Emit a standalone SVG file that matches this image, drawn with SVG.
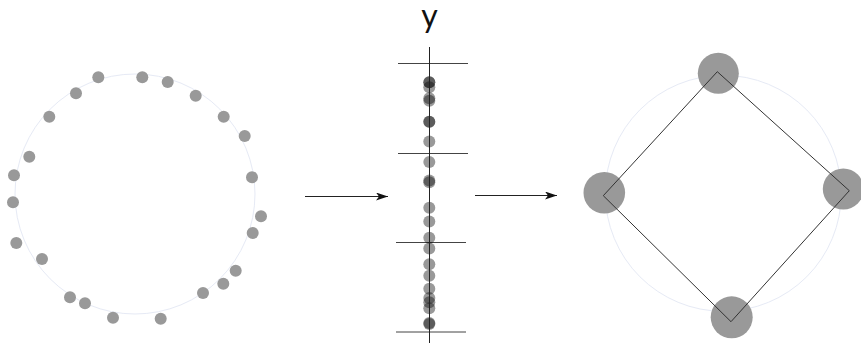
<svg xmlns="http://www.w3.org/2000/svg" width="861" height="345" viewBox="0 0 861 345">
<style>
.guide{fill:none;stroke:#e6eaf5;stroke-width:1}
.pt{fill:#999}
.proj{fill:#000;fill-opacity:0.4}
.axis{stroke:#222;stroke-width:1}
.tick{stroke:#444;stroke-width:1}
.big{fill:#999}
.edge{fill:none;stroke:#333;stroke-width:1}
.conn{stroke:#222;stroke-width:1;fill:none}
.lbl{font-family:Lato,"Open Sans","DejaVu Sans",sans-serif;font-size:32px;fill:#111}
</style>
<defs>
<marker id="ah" viewBox="0 0 12 8" refX="12" refY="4" markerWidth="12" markerHeight="8" markerUnits="userSpaceOnUse" orient="auto">
<path d="M0,0 L12,4 L0,8 L3,4 Z" fill="#111"/>
</marker>
</defs>
<g id="ring">
<circle class="guide" cx="135" cy="194" r="120"/>
<circle class="pt" cx="98.3" cy="77.3" r="6"/>
<circle class="pt" cx="142.3" cy="77.3" r="6"/>
<circle class="pt" cx="167.7" cy="82" r="6"/>
<circle class="pt" cx="195.7" cy="95.7" r="6"/>
<circle class="pt" cx="223.7" cy="116.7" r="6"/>
<circle class="pt" cx="244.7" cy="136" r="6"/>
<circle class="pt" cx="252" cy="177.3" r="6"/>
<circle class="pt" cx="261" cy="216.3" r="6"/>
<circle class="pt" cx="252.7" cy="233" r="6"/>
<circle class="pt" cx="235.7" cy="270.7" r="6"/>
<circle class="pt" cx="223.3" cy="283.7" r="6"/>
<circle class="pt" cx="203" cy="293" r="6"/>
<circle class="pt" cx="160.7" cy="318.7" r="6"/>
<circle class="pt" cx="113" cy="317.7" r="6"/>
<circle class="pt" cx="85" cy="303.3" r="6"/>
<circle class="pt" cx="70" cy="297.3" r="6"/>
<circle class="pt" cx="42" cy="259" r="6"/>
<circle class="pt" cx="16.3" cy="243" r="6"/>
<circle class="pt" cx="13" cy="202.3" r="6"/>
<circle class="pt" cx="14" cy="175.3" r="6"/>
<circle class="pt" cx="29.3" cy="156.7" r="6"/>
<circle class="pt" cx="49.3" cy="116.7" r="6"/>
<circle class="pt" cx="76" cy="93.3" r="6"/>
</g>
<g id="projection">
<text class="lbl" x="429.5" y="27" text-anchor="middle">y</text>
<line class="tick" x1="398" y1="63.5" x2="468" y2="63.5"/>
<line class="tick" x1="398" y1="153.5" x2="468" y2="153.5"/>
<line class="tick" x1="396" y1="242.5" x2="466" y2="242.5"/>
<line class="tick" x1="396" y1="332" x2="466" y2="332"/>
<circle class="proj" cx="429.3" cy="82.3" r="6"/>
<circle class="proj" cx="429.3" cy="82.3" r="6"/>
<circle class="proj" cx="429.3" cy="87.3" r="6"/>
<circle class="proj" cx="429.3" cy="98.3" r="6"/>
<circle class="proj" cx="429.3" cy="100.7" r="6"/>
<circle class="proj" cx="429.3" cy="121.7" r="6"/>
<circle class="proj" cx="429.3" cy="121.7" r="6"/>
<circle class="proj" cx="429.3" cy="141.5" r="6"/>
<circle class="proj" cx="429.3" cy="162" r="6"/>
<circle class="proj" cx="429.3" cy="180.6" r="6"/>
<circle class="proj" cx="429.3" cy="182.3" r="6"/>
<circle class="proj" cx="429.3" cy="207.8" r="6"/>
<circle class="proj" cx="429.3" cy="221.5" r="6"/>
<circle class="proj" cx="429.3" cy="237.8" r="6"/>
<circle class="proj" cx="429.3" cy="248.5" r="6"/>
<circle class="proj" cx="429.3" cy="264.2" r="6"/>
<circle class="proj" cx="429.3" cy="275.8" r="6"/>
<circle class="proj" cx="429.3" cy="288.8" r="6"/>
<circle class="proj" cx="429.3" cy="298" r="6"/>
<circle class="proj" cx="429.3" cy="302.3" r="6"/>
<circle class="proj" cx="429.3" cy="308.3" r="6"/>
<circle class="proj" cx="429.3" cy="323" r="6"/>
<circle class="proj" cx="429.3" cy="324" r="6"/>
<line class="axis" x1="429.5" y1="47" x2="429.5" y2="343"/>
</g>
<g id="square">
<circle class="guide" cx="723.3" cy="193.3" r="118"/>
<circle class="big" cx="718.3" cy="73.3" r="20.5"/>
<circle class="big" cx="843.3" cy="189" r="20.5"/>
<circle class="big" cx="731.7" cy="317.3" r="21"/>
<circle class="big" cx="604.3" cy="192.7" r="20.8"/>
<path class="edge" d="M717.3,71.7 L849.3,190.7 L731,321.7 L603.3,195.7 Z"/>
</g>
<g id="connectors">
<line class="conn" x1="305" y1="196.5" x2="388" y2="196.5" marker-end="url(#ah)"/>
<line class="conn" x1="475" y1="195.5" x2="557" y2="195.5" marker-end="url(#ah)"/>
</g>
</svg>
